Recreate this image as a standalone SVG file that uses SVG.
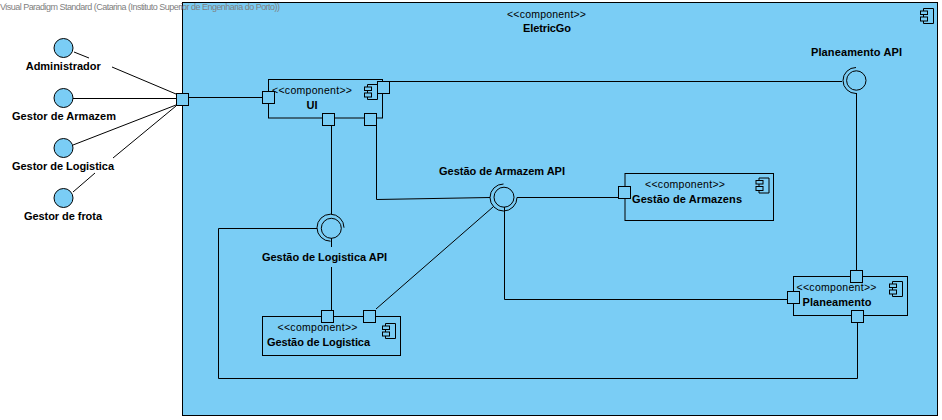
<svg xmlns="http://www.w3.org/2000/svg" width="942" height="420" viewBox="0 0 942 420">
<style>
text{font-family:"Liberation Sans",Arial,sans-serif;fill:#000}
.b{font-size:11px;font-weight:bold}
.s{font-size:10.5px}
.h{font-size:9px;fill:#808080}
.f{fill:#7acdf5;stroke:#000;stroke-width:1}
.l{fill:none;stroke:#000;stroke-width:1}
</style>
<defs>
<g id="icon" class="l"><path d="M3.5 3V.5H13.5V15.5H3.5V13M3.5 6.5V9"/><rect x=".5" y="3" width="7" height="3.5"/><rect x=".5" y="9" width="7" height="4"/></g>
<rect id="port" class="f" width="12" height="12"/>
</defs>
<rect width="942" height="420" fill="#fff"/>
<g id="EletricGo">
<rect class="f" x="182.5" y="2.5" width="755" height="413"/>
<use href="#icon" x="920" y="8"/>
<text class="s" x="507" y="18" textLength="79">&lt;&lt;component&gt;&gt;</text>
<text class="b" x="523" y="32" textLength="48">EletricGo</text>
</g>
<text class="h" x="0" y="10" textLength="280">Visual Paradigm Standard (Catarina (Instituto Superior de Engenharia do Porto))</text>
<g id="connectors" class="l">
<path d="M74 52L89 58M112 67L176 94"/>
<path d="M73 98.500H176"/>
<path d="M73 145L176 105"/>
<path d="M73 192L95 173M113 158L176 106"/>
<path d="M188 97.500H262"/>
<path d="M389 81.500H842"/>
<path d="M856.500 93V270"/>
<path d="M331.500 125V214M331.500 238V247M331.500 267V310"/>
<path d="M376.500 125V199.500L490 197.500"/>
<path d="M376 309L493 207"/>
<path d="M517 197.500H619"/>
<path d="M504.500 207V299.500H787"/>
<path d="M317 228.500H218.500V378.500H857.500V322"/>
</g>
<g id="actor-administrador"><circle class="f" cx="63.500" cy="48" r="9.500"/><text class="b" x="25.700" y="70" textLength="75">Administrador</text></g>
<g id="actor-armazem"><circle class="f" cx="63.500" cy="98" r="9.500"/><text class="b" x="12" y="120" textLength="104">Gestor de Armazem</text></g>
<g id="actor-logistica"><circle class="f" cx="63.500" cy="148" r="9.500"/><text class="b" x="12" y="170" textLength="102">Gestor de Logistica</text></g>
<g id="actor-frota"><circle class="f" cx="63.500" cy="198" r="9.500"/><text class="b" x="24" y="220" textLength="78">Gestor de frota</text></g>
<g id="port-system"><use href="#port" x="176.500" y="93.500"/></g>
<g id="UI">
<rect class="f" x="268.500" y="79.500" width="114" height="38.500"/>
<use href="#icon" x="364" y="84"/>
<text class="s" x="272" y="94" textLength="80">&lt;&lt;component&gt;&gt;</text>
<text class="b" x="306.500" y="109" textLength="11">UI</text>
<use href="#port" x="262.500" y="91.500"/><use href="#port" x="377.500" y="81.500"/><use href="#port" x="322.500" y="113.500"/><use href="#port" x="364.500" y="113.500"/>
</g>
<g id="Planeamento-API"><circle class="l" cx="856.300" cy="80.500" r="9.700"/><path class="l" d="M856 67.500A13 13 0 0 0 856 93.500"/><text class="b" x="811" y="56" textLength="91">Planeamento API</text></g>
<g id="Gestao-de-Armazem-API"><circle class="l" cx="504" cy="197.200" r="10"/><path class="l" d="M503.500 184A13.500 13.500 0 1 0 517 197.500"/><text class="b" x="439" y="175" textLength="126">Gestão de Armazem API</text></g>
<g id="Gestao-de-Logistica-API"><circle class="l" cx="331.300" cy="228.300" r="10"/><path class="l" d="M344 227.700A13.500 13.500 0 1 0 330.500 241.200"/><text class="b" x="262" y="261" textLength="125">Gestão de Logistica API</text></g>
<g id="Gestao-de-Armazens">
<rect class="f" x="625" y="173.500" width="148.500" height="47"/>
<use href="#icon" x="755.500" y="177.500"/>
<text class="s" x="645" y="187.500" textLength="80">&lt;&lt;component&gt;&gt;</text>
<text class="b" x="632" y="203" textLength="110">Gestão de Armazens</text>
<use href="#port" x="618.500" y="186.500"/>
</g>
<g id="Gestao-de-Logistica">
<rect class="f" x="262.500" y="316.500" width="138" height="39"/>
<use href="#icon" x="382" y="323"/>
<text class="s" x="277.500" y="331" textLength="80">&lt;&lt;component&gt;&gt;</text>
<text class="b" x="267" y="346" textLength="103">Gestão de Logistica</text>
<use href="#port" x="321.500" y="310.500"/><use href="#port" x="363.500" y="310.500"/>
</g>
<g id="Planeamento">
<rect class="f" x="793.500" y="276.500" width="114" height="39"/>
<use href="#icon" x="889" y="281"/>
<text class="s" x="796.500" y="291" textLength="80">&lt;&lt;component&gt;&gt;</text>
<text class="b" x="802.500" y="306" textLength="69">Planeamento</text>
<use href="#port" x="850.500" y="270.500"/><use href="#port" x="787.500" y="291.500"/><use href="#port" x="851.500" y="310.500"/>
</g>
</svg>
